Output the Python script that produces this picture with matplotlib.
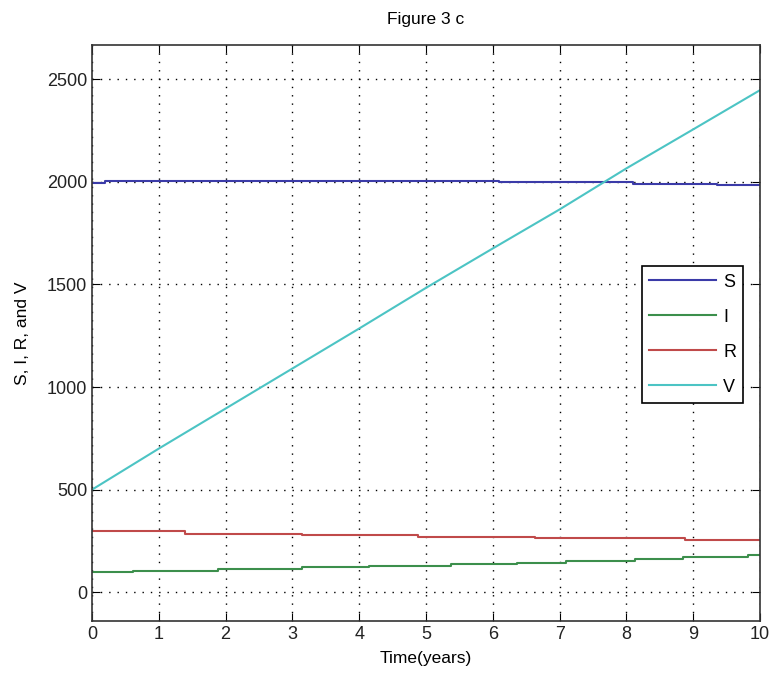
import matplotlib
matplotlib.use('Agg')
import matplotlib.pyplot as plt

plt.rcParams['font.family'] = ['Liberation Sans', 'DejaVu Sans']

# step data (time of change, value)
s_t = [0, 0.2, 6.1, 8.1, 9.35, 10]
s_v = [1995, 2002, 1997, 1991, 1982, 1982]

i_t = [0, 0.62, 1.89, 3.14, 4.14, 5.38, 6.36, 7.1, 8.13, 8.85, 9.82, 10]
i_v = [97, 105, 114, 122, 130, 137, 145, 153, 163, 172, 181, 181]

r_t = [0, 1.39, 3.14, 4.88, 6.63, 8.88, 10]
r_v = [300, 285, 277, 270, 262, 254, 254]

v_t = [0, 1, 2, 3, 4, 5, 6, 7, 8, 9, 10]
v_v = [500, 700, 895, 1090, 1285, 1483, 1675, 1865, 2065, 2255, 2446]

fig = plt.figure(figsize=(7.7, 6.85), dpi=100)
ax = fig.add_axes([0.1195, 0.0934, 0.8675, 0.8406])

ax.plot(s_t, s_v, color='#3b3ba8', lw=1.5, drawstyle='steps-post', label='S')
ax.plot(i_t, i_v, color='#3c8f4c', lw=1.5, drawstyle='steps-post', label='I')
ax.plot(r_t, r_v, color='#c04a4a', lw=1.5, drawstyle='steps-post', label='R')
ax.plot(v_t, v_v, color='#4cc4c4', lw=1.5, label='V')

ax.set_xlim(0, 10)
ax.set_ylim(-140, 2665)
ax.set_xticks(range(0, 11))
ax.set_yticks(range(0, 3000, 500))
ax.grid(True, color='black', linestyle=(0, (1, 5)), linewidth=1.0)
ax.tick_params(direction='in', top=True, right=True, length=6, labelsize=13,
               labelcolor='#222222')
for sp in ax.spines.values():
    sp.set_color('#333333')
    sp.set_linewidth(1.2)

ax.set_title('Figure 3 c', fontsize=12.5, pad=15)
ax.set_xlabel('Time(years)', fontsize=12.5, labelpad=6)
ax.set_ylabel('S, I, R, and V', fontsize=12.5, labelpad=12)

leg = ax.legend(loc='upper left', bbox_to_anchor=(0.823, 0.616), fontsize=13,
                handlelength=3.7, borderaxespad=0, fancybox=False,
                framealpha=1, edgecolor='black', labelspacing=1.0,
                handletextpad=0.4)
leg.get_frame().set_linewidth(1.2)

fig.savefig('out.png', dpi=100)
